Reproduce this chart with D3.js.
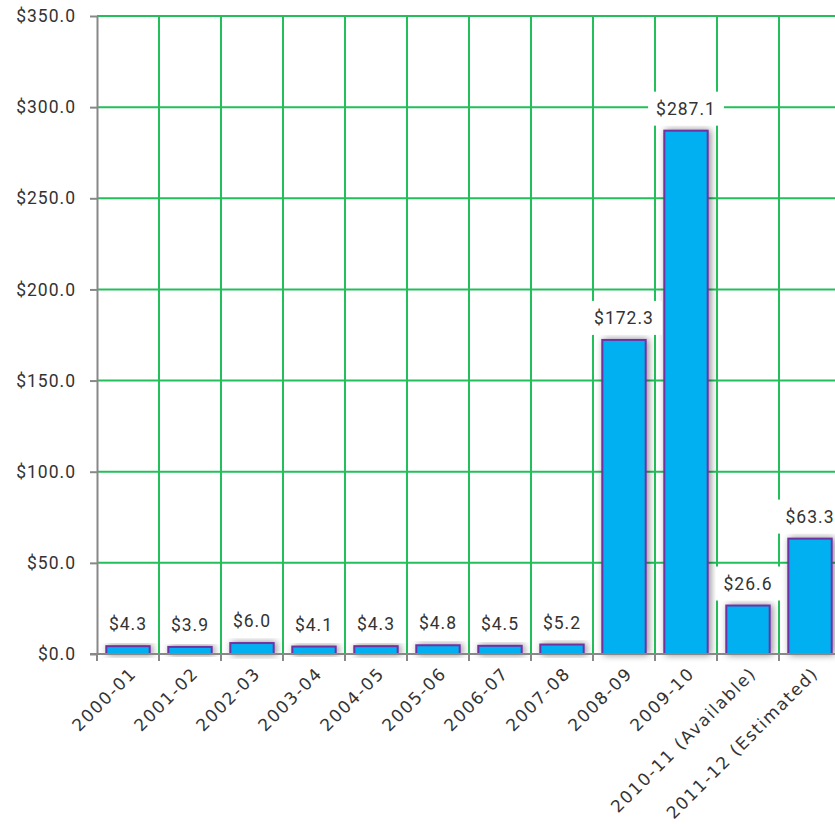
<!DOCTYPE html>
<html lang="en">
<head>
	<meta charset="UTF-8">
	<title>bar-chart</title>
	<script src="https://cdn.jsdelivr.net/npm/d3@7"></script>
	<style>
	body { margin: 0; background: #fff; }
	text { font-family: Roboto, "Liberation Sans", sans-serif; fill: #333; }
	.grid line { stroke: #22bf5a; stroke-width: 2px; }
	.axis path, .axis line { stroke: #888; stroke-width: 2px; }
	.bar { fill: #00b0f0; stroke: #7030a0; stroke-width: 2px; }
	.xlab { font-family: "DejaVu Sans", sans-serif; }
	</style>
</head>
<body>
	<svg id="svg" width="835" height="824"></svg>

	<script>
		var categories = ['2000-01', '2001-02', '2002-03', '2003-04', '2004-05', '2005-06',
			'2006-07', '2007-08', '2008-09', '2009-10', '2010-11 (Available)', '2011-12 (Estimated)'];
		var values = [4.3, 3.9, 6.0, 4.1, 4.3, 4.8, 4.5, 5.2, 172.3, 287.1, 26.6, 63.3];
		var yTicks = [0, 50, 100, 150, 200, 250, 300, 350];

		var svg = d3.select('#svg'),
			plotLeft = 97, plotTop = 16, plotBottom = 654, bandW = 62;

		var x = d3.scaleBand()
			.domain(categories)
			.range([plotLeft, plotLeft + bandW * categories.length])
			.paddingInner(0.3).paddingOuter(0.15);
		var y = d3.scaleLinear().domain([0, 350]).range([plotBottom, plotTop]);

		var fmt = function (v) { return '$' + d3.format('.1f')(v); };

		var defs = svg.append('defs');
		defs.append('filter').attr('id', 'shadow')
			.attr('x', '-40%').attr('y', '-40%').attr('width', '180%').attr('height', '180%')
			.append('feDropShadow')
			.attr('dx', 2).attr('dy', 0).attr('stdDeviation', 3.5)
			.attr('flood-color', '#000').attr('flood-opacity', 0.45);

		var edge = function (d) { return x(d) - x.step() * x.paddingInner() / 2; };

		// gridlines
		var grid = svg.append('g').attr('class', 'grid');
		grid.selectAll('.h').data(yTicks.filter(function (d) { return d > 0; }))
			.enter().append('line')
			.attr('x1', plotLeft).attr('x2', 835)
			.attr('y1', function (d) { return y(d); }).attr('y2', function (d) { return y(d); });
		grid.selectAll('.v').data(categories.slice(1))
			.enter().append('line')
			.attr('x1', edge).attr('x2', edge)
			.attr('y1', plotTop).attr('y2', plotBottom);

		// bars
		svg.append('g').selectAll('rect').data(values).enter().append('rect')
			.attr('class', 'bar')
			.attr('filter', 'url(#shadow)')
			.attr('x', function (d, i) { return x(categories[i]); })
			.attr('width', x.bandwidth())
			.attr('y', function (d) { return y(d); })
			.attr('height', function (d) { return plotBottom - y(d); });

		// axes
		var yAxis = svg.append('g').attr('class', 'axis')
			.attr('transform', 'translate(' + plotLeft + ',0)')
			.call(d3.axisLeft(y).tickValues(yTicks).tickFormat(fmt).tickSize(7).tickSizeOuter(0));
		yAxis.selectAll('text')
			.attr('x', -21)
			.style('font-family', 'Roboto, sans-serif')
			.style('font-size', '17.5px')
			.style('letter-spacing', '1px')
			.style('fill', '#333');

		var xAxis = svg.append('g').attr('class', 'axis');
		xAxis.append('line').attr('x1', plotLeft - 7).attr('x2', 835).attr('y1', plotBottom).attr('y2', plotBottom);
		xAxis.selectAll('.tick').data(categories).enter().append('line')
			.attr('x1', edge).attr('x2', edge)
			.attr('y1', plotBottom).attr('y2', plotBottom + 7);
		xAxis.selectAll('text').data(categories).enter().append('text')
			.attr('class', 'xlab')
			.attr('transform', function (d) {
				return 'translate(' + (x(d) + x.bandwidth() / 2 + 1) + ',' + (plotBottom + 12) + ') rotate(-45)';
			})
			.attr('text-anchor', 'end')
			.attr('dy', '0.7em')
			.style('font-size', '17px')
			.style('letter-spacing', '1.6px')
			.text(function (d) { return d; });

		// value labels
		var labels = svg.append('g').selectAll('g').data(values).enter().append('g')
			.attr('transform', function (d, i) {
				return 'translate(' + (x(categories[i]) + x.bandwidth() / 2) + ',' + (y(d) - 22) + ')';
			});
		labels.append('rect').attr('fill', '#fff');
		labels.append('text')
			.attr('text-anchor', 'middle').attr('dy', '0.35em')
			.style('font-size', '17.5px')
			.style('letter-spacing', '1px')
			.text(fmt);
		labels.each(function () {
			var g = d3.select(this), b = g.select('text').node().getBBox();
			g.select('rect').attr('x', b.x - 8).attr('y', -17)
				.attr('width', b.width + 16).attr('height', 34);
		});
	</script>
</body>
</html>
